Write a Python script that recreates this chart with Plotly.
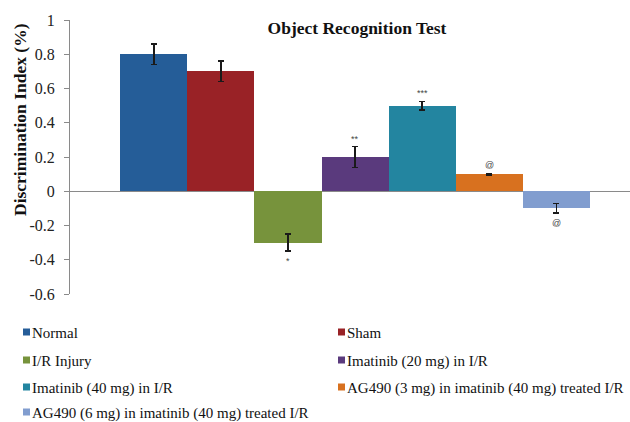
import plotly.graph_objects as go

# Groups, mean discrimination index and SEM
groups = [
    "Normal",
    "Sham",
    "I/R Injury",
    "Imatinib (20 mg) in I/R",
    "Imatinib (40 mg) in I/R",
    "AG490 (3 mg) in imatinib (40 mg) treated I/R",
    "AG490 (6 mg) in imatinib (40 mg) treated I/R",
]
means = [0.80, 0.70, -0.30, 0.20, 0.50, 0.10, -0.10]
sems = [0.06, 0.06, 0.05, 0.06, 0.025, 0.004, 0.028]
marks = ["", "", "*", "**", "***", "@", "@"]
colors = ["#255D98", "#992226", "#77933C", "#5A3A7D", "#2385A0", "#D8711F", "#819DCF"]

y_ticks = [1, 0.8, 0.6, 0.4, 0.2, 0, -0.2, -0.4, -0.6]
y_tick_text = ["1", "0.8", "0.6", "0.4", "0.2", "0", "-0.2", "-0.4", "-0.6"]

serif = "Liberation Serif"

W, H = 630, 422
L, R, T, B = 70, 0, 20, 128
plot_w, plot_h = W - L - R, H - T - B


def px_x(px):
    """pixel column -> paper x"""
    return (px - L) / plot_w


def px_y(py):
    """pixel row -> paper y"""
    return (H - B - py) / plot_h


fig = go.Figure()
for i, (g, m, s, c) in enumerate(zip(groups, means, sems, colors)):
    fig.add_trace(go.Bar(
        x=[i], y=[m], name=g, width=1.0,
        marker=dict(color=c, line=dict(width=0)),
        error_y=dict(type="data", array=[s], color="#1a1a1a", thickness=1.4, width=3),
        showlegend=False,
    ))

# significance symbols just beyond each error bar
for i, (m, s, t) in enumerate(zip(means, sems, marks)):
    if not t:
        continue
    tip = m + s if m >= 0 else m - s
    fig.add_annotation(
        x=i, y=tip, text=t, showarrow=False,
        yshift=8 if m >= 0 else -10,
        font=dict(family="Liberation Sans", size=9, color="#444444"),
    )

# two-column key below the chart
legend_cols = [23, 338]
legend_rows = [332, 360, 387, 412]
for k, (g, c) in enumerate(zip(groups, colors)):
    cx = legend_cols[k % 2]
    cy = legend_rows[k // 2]
    fig.add_shape(
        type="rect", xref="paper", yref="paper",
        x0=px_x(cx), x1=px_x(cx + 7), y0=px_y(cy + 3.5), y1=px_y(cy - 3.5),
        fillcolor=c, line=dict(width=0),
    )
    fig.add_annotation(
        xref="paper", yref="paper", x=px_x(cx + 8), y=px_y(cy + 1),
        xanchor="left", yanchor="middle", text=g, showarrow=False, borderpad=0,
        font=dict(family=serif, size=15, color="#111111"),
    )

# y axis title
fig.add_annotation(
    xref="paper", yref="paper", x=px_x(20), y=px_y(120),
    xanchor="center", yanchor="middle", textangle=-90, showarrow=False,
    text="<b>Discrimination Index (%)</b>",
    font=dict(family=serif, size=17.5, color="#111111"),
)

fig.update_layout(
    width=W, height=H,
    margin=dict(l=L, r=R, t=T, b=B),
    paper_bgcolor="white", plot_bgcolor="white",
    barmode="overlay", bargap=0,
    title=dict(
        text="<b>Object Recognition Test</b>",
        x=357 / W, xanchor="center", xref="container",
        y=1 - 28 / H, yanchor="middle", yref="container",
        font=dict(family=serif, size=17.5, color="#111111"),
    ),
    xaxis=dict(
        range=[-1.25, 7.1], showticklabels=False, showgrid=False,
        zeroline=False, showline=False, ticks="",
    ),
    yaxis=dict(
        range=[-0.6, 1], tickvals=y_ticks, ticktext=y_tick_text,
        showgrid=False, zeroline=True, zerolinecolor="#8a8a8a", zerolinewidth=1.2,
        showline=True, linecolor="#8a8a8a", linewidth=1,
        ticks="outside", ticklen=5, tickcolor="#8a8a8a",
        ticklabelstandoff=6,
        tickfont=dict(family=serif, size=16, color="#222222"),
    ),
    showlegend=False,
)

fig.write_html("out.html")
